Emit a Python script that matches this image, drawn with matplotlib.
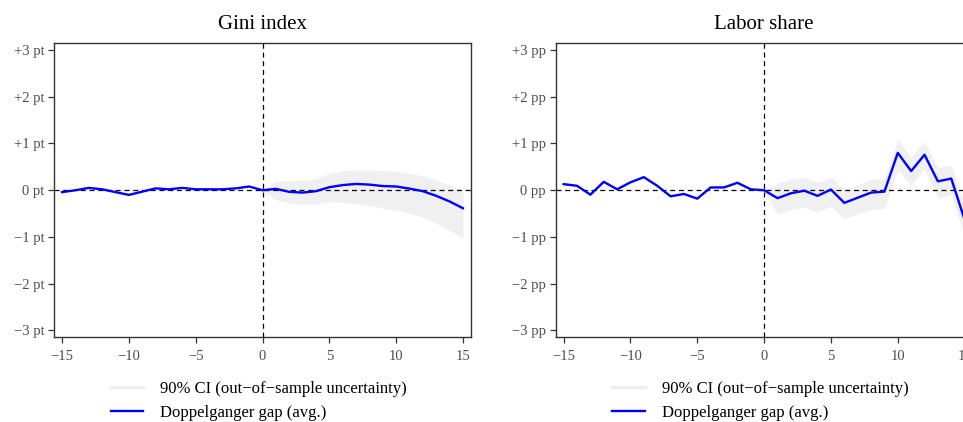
import matplotlib
matplotlib.use("Agg")
import matplotlib.pyplot as plt
from matplotlib.lines import Line2D

plt.rcParams['font.family'] = ['Liberation Serif', 'DejaVu Serif']

# event time (years relative to treatment)
years = list(range(-15, 16))
post_years = list(range(0, 16))

# Gini index gap (points)
gini_gap = [-0.04, 0.0, 0.05, 0.02, -0.04, -0.1, -0.03, 0.04, 0.02, 0.05, 0.02, 0.02, 0.02,
            0.04, 0.08, 0.0, 0.03, -0.035, -0.05, -0.02, 0.065, 0.11, 0.135, 0.12, 0.09,
            0.08, 0.035, -0.02, -0.12, -0.24, -0.385]
gini_lo = [0.0, -0.2, -0.28, -0.3, -0.29, -0.24, -0.26, -0.29, -0.33, -0.38, -0.43,
           -0.49, -0.58, -0.7, -0.86, -1.03]
gini_hi = [0.0, 0.2, 0.2, 0.21, 0.25, 0.36, 0.42, 0.43, 0.43, 0.42, 0.41, 0.36, 0.31,
           0.22, 0.11, 0.0]

# Labor share gap (percentage points)
labor_gap = [0.13, 0.095, -0.095, 0.18, 0.02, 0.17, 0.28, 0.095, -0.13, -0.08, -0.18,
             0.06, 0.06, 0.16, 0.02, 0.0, -0.17, -0.065, -0.01, -0.12, 0.015, -0.27,
             -0.16, -0.05, -0.03, 0.8, 0.41, 0.76, 0.19, 0.25, -0.63]
labor_lo = [0.0, -0.52, -0.41, -0.36, -0.47, -0.34, -0.61, -0.5, -0.41, -0.39, 0.45,
            0.1, 0.45, -0.17, -0.1, -1.0]
labor_hi = [0.0, 0.15, 0.23, 0.28, 0.17, 0.28, 0.02, 0.12, 0.23, 0.24, 1.08, 0.71,
            1.04, 0.48, 0.53, -0.3]

x_ticks = [-15, -10, -5, 0, 5, 10, 15]
x_labels = ['\u221215', '\u221210', '\u22125', '0', '5', '10', '15']
y_ticks = [-3, -2, -1, 0, 1, 2, 3]

panels = [
    ('Gini index', 'pt', gini_gap, gini_lo, gini_hi),
    ('Labor share', 'pp', labor_gap, labor_lo, labor_hi),
]

fig = plt.figure(figsize=(9.63, 4.22), dpi=100)
positions = [[0.0561, 0.2014, 0.433, 0.6967], [0.577, 0.2014, 0.433, 0.6967]]

ci_color = '#f0f0f0'
line_color = '#0000ff'

for pos, (title, unit, gap, lo, hi) in zip(positions, panels):
    ax = fig.add_axes(pos)
    ax.fill_between(post_years, lo, hi, color=ci_color, lw=0, zorder=1)
    ax.plot(years, gap, color=line_color, lw=1.7, zorder=3)
    ax.axhline(0, color='black', ls=(0, (4, 3)), lw=0.9, zorder=2)
    ax.axvline(0, color='black', ls=(0, (4, 3)), lw=0.9, zorder=2)

    ax.set_xlim(-15.6, 15.6)
    ax.set_ylim(-3.14, 3.15)
    ax.set_xticks(x_ticks)
    ax.set_xticklabels(x_labels)
    ax.set_yticks(y_ticks)
    ylab = []
    for v in y_ticks:
        if v > 0:
            ylab.append('+%d %s' % (v, unit))
        elif v < 0:
            ylab.append('\u2212%d %s' % (-v, unit))
        else:
            ylab.append('0 %s' % unit)
    ax.set_yticklabels(ylab)
    ax.tick_params(direction='out', length=4, width=0.9, color='#333333',
                   labelcolor='#4d4d4d', labelsize=10.5)
    ax.tick_params(axis='x', pad=5)
    ax.tick_params(axis='y', pad=3)
    for s in ax.spines.values():
        s.set_color('#333333')
        s.set_linewidth(1.0)
    ax.set_title(title, fontsize=15, pad=10)

    handles = [Line2D([0], [0], color='#eeeeee', lw=2.5),
               Line2D([0], [0], color=line_color, lw=1.7)]
    ax.legend(handles, ['90% CI (out\u2212of\u2212sample uncertainty)', 'Doppelganger gap (avg.)'],
              loc='upper left', bbox_to_anchor=(0.12, -0.128), frameon=False,
              fontsize=12, handlelength=1.95, handletextpad=1.0, labelspacing=0.45,
              borderaxespad=0)

fig.savefig('out.png', dpi=100)
